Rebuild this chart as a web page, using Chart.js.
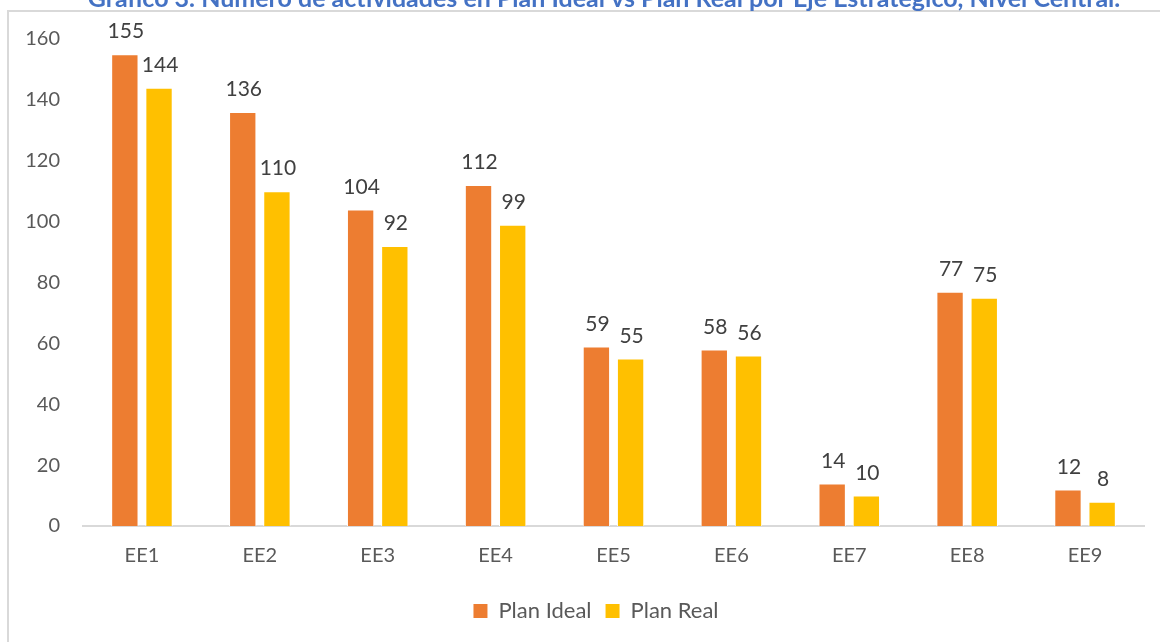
<!DOCTYPE html>
<html>
<head>
<meta charset="utf-8">
<script src="https://cdn.jsdelivr.net/npm/chart.js@4.4.1/dist/chart.umd.min.js"></script>
<style>
  html, body { margin: 0; padding: 0; background: #fff; }
  #wrap { position: relative; width: 1160px; height: 642px; }
</style>
</head>
<body>
<div id="wrap"><canvas id="c" width="1160" height="642"></canvas></div>
<script>
const categories = ["EE1", "EE2", "EE3", "EE4", "EE5", "EE6", "EE7", "EE8", "EE9"];
const planIdeal = [155, 136, 104, 112, 59, 58, 14, 77, 12];
const planReal = [144, 110, 92, 99, 55, 56, 10, 75, 8];
const seriesNames = ["Plan Ideal", "Plan Real"];
const yTicks = [0, 20, 40, 60, 80, 100, 120, 140, 160];
const titleText = "Gráfico 3. Número de actividades en Plan Ideal vs Plan Real por Eje Estratégico, Nivel Central.";

const FONT = "Lato, 'Open Sans', sans-serif";
const TXT = "#595959";

const framePlugin = {
  id: "frame",
  afterLayout(chart) {
    if (chart.legend) {
      chart.legend.left += 24;
      chart.legend.right += 24;
    }
  },
  beforeDraw(chart) {
    const ctx = chart.ctx;
    ctx.save();
    ctx.strokeStyle = "#d9d9d9";
    ctx.lineWidth = 2;
    ctx.beginPath();
    ctx.moveTo(8, 700);
    ctx.lineTo(8, 11);
    ctx.lineTo(1170, 11);
    ctx.stroke();
    ctx.restore();
  },
  afterDraw(chart) {
    const ctx = chart.ctx;
    ctx.save();
    ctx.fillStyle = "#4472C4";
    ctx.font = "bold 25px " + FONT;
    ctx.textAlign = "center";
    ctx.textBaseline = "alphabetic";
    ctx.fillText(titleText, 604, 7);
    ctx.restore();
  }
};

const labelPlugin = {
  id: "valueLabels",
  afterDatasetsDraw(chart) {
    const ctx = chart.ctx;
    ctx.save();
    ctx.fillStyle = "#404040";
    ctx.font = "21px " + FONT;
    ctx.textAlign = "center";
    ctx.textBaseline = "bottom";
    chart.data.datasets.forEach((ds, i) => {
      const meta = chart.getDatasetMeta(i);
      meta.data.forEach((bar, j) => {
        ctx.fillText(String(ds.data[j]), bar.x + 1, bar.y - 12);
      });
    });
    ctx.restore();
  }
};

new Chart(document.getElementById("c"), {
  type: "bar",
  data: {
    labels: categories,
    datasets: [
      { label: seriesNames[0], data: planIdeal, backgroundColor: "#ED7D31", borderColor: "#ffffff", borderWidth: 1,
        categoryPercentage: 0.58, barPercentage: 0.8 },
      { label: seriesNames[1], data: planReal, backgroundColor: "#FFC000", borderColor: "#ffffff", borderWidth: 1,
        categoryPercentage: 0.58, barPercentage: 0.8 }
    ]
  },
  options: {
    responsive: false,
    animation: false,
    devicePixelRatio: 1,
    layout: { padding: { top: 39, right: 16, bottom: 10, left: 0 } },
    plugins: {
      title: { display: false },
      tooltip: { enabled: false },
      legend: {
        position: "bottom",
        labels: {
          boxWidth: 14, boxHeight: 14, padding: 14,
          color: TXT,
          font: { family: FONT, size: 22 },
          generateLabels(chart) {
            return chart.data.datasets.map((ds, i) => ({
              text: ds.label, fillStyle: ds.backgroundColor, strokeStyle: ds.backgroundColor,
              lineWidth: 0, fontColor: TXT, datasetIndex: i, hidden: false
            }));
          }
        }
      }
    },
    scales: {
      x: {
        grid: { display: false, drawTicks: false },
        border: { display: true, color: "#d9d9d9", width: 2 },
        ticks: { color: TXT, font: { family: FONT, size: 20 }, padding: 18 },
        afterFit(s) { s.height = 60; }
      },
      y: {
        min: 0, max: 160,
        grid: { display: false, drawTicks: false },
        border: { display: false },
        afterBuildTicks(s) { s.ticks = yTicks.map(v => ({ value: v })); },
        ticks: { color: TXT, font: { family: FONT, size: 20 }, padding: 23 },
        afterFit(s) { s.width = 83; }
      }
    }
  },
  plugins: [framePlugin, labelPlugin]
});
</script>
</body>
</html>
